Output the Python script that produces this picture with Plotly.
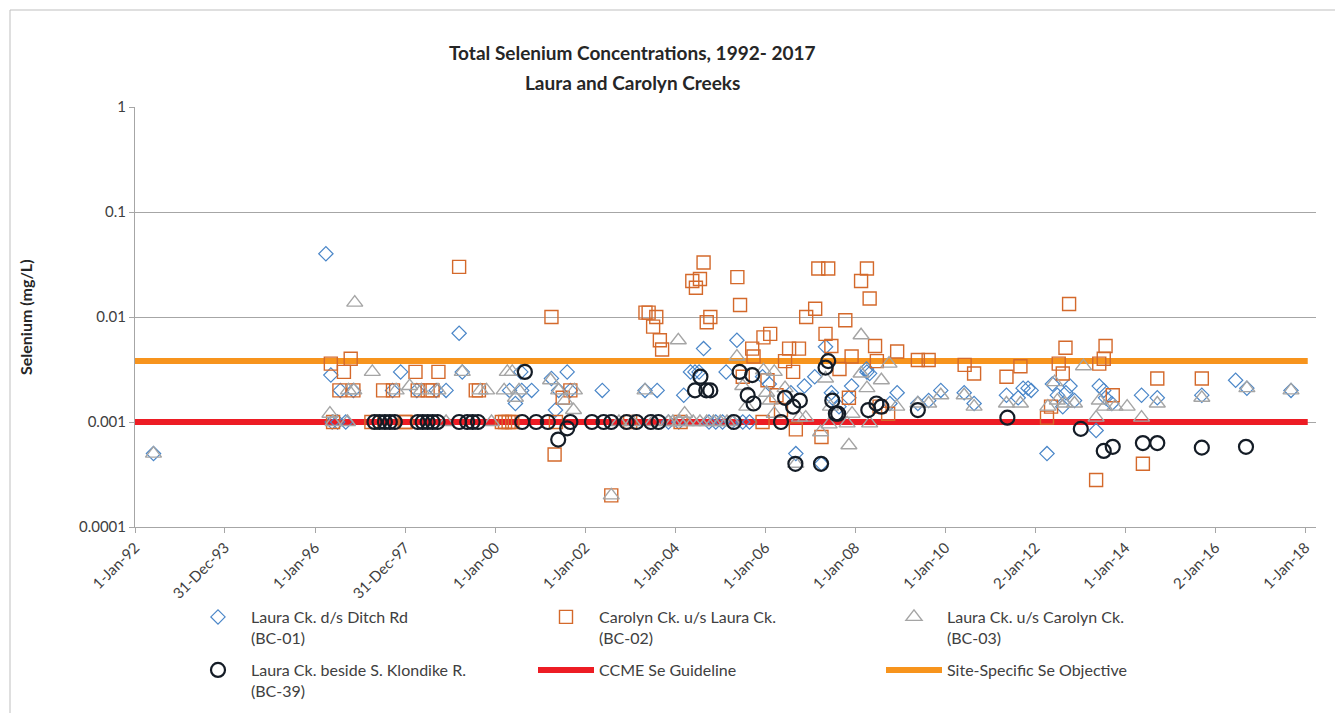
import plotly.graph_objects as go
import pandas as pd

# Sample dates as decimal years, concentrations in mg/L
bc01_year = [1992.41, 1996.24, 1996.35, 1996.38, 1996.50, 1996.56, 1996.68, 1996.85, 1997.72, 1997.90,
             1998.26, 1998.69, 1998.91, 1999.20, 1999.27, 2000.32, 2000.45, 2000.57, 2000.59, 2000.81,
             2001.25, 2001.34, 2001.41, 2001.60, 2001.67, 2002.38, 2003.33, 2003.60, 2003.85, 2004.08,
             2004.19, 2004.34, 2004.44, 2004.53, 2004.63, 2004.75, 2004.90, 2005.05, 2005.13, 2005.25,
             2005.37, 2005.50, 2005.65, 2005.94, 2006.09, 2006.57, 2006.68, 2006.87, 2007.10, 2007.25,
             2007.34, 2007.47, 2007.49, 2007.64, 2007.86, 2007.92, 2008.25, 2008.26, 2008.32, 2008.77,
             2008.93, 2009.39, 2009.63, 2009.90, 2010.42, 2010.64, 2011.36, 2011.62, 2011.73, 2011.84,
             2011.91, 2012.26, 2012.38, 2012.49, 2012.61, 2012.68, 2012.77, 2012.87, 2013.35, 2013.42,
             2013.52, 2013.56, 2013.70, 2014.36, 2014.71, 2015.70, 2016.45, 2016.70, 2017.68]
bc01_se = [0.0005, 0.04, 0.0028, 0.001, 0.001, 0.002, 0.001, 0.002, 0.002, 0.003,
           0.002, 0.002, 0.002, 0.007, 0.003, 0.002, 0.0015, 0.003, 0.002, 0.002,
           0.0026, 0.0013, 0.002, 0.003, 0.002, 0.002, 0.002, 0.002, 0.001, 0.001,
           0.0018, 0.003, 0.003, 0.003, 0.005, 0.001, 0.001, 0.001, 0.003, 0.001,
           0.006, 0.001, 0.001, 0.0027, 0.0023, 0.0019, 0.0005, 0.0022, 0.0027, 0.0004,
           0.0052, 0.0019, 0.0017, 0.0014, 0.0017, 0.0022, 0.0032, 0.003, 0.0029, 0.0015,
           0.0019, 0.0015, 0.0016, 0.002, 0.0019, 0.0015, 0.0018, 0.0017, 0.0021, 0.0021,
           0.002, 0.0005, 0.0023, 0.0018, 0.0014, 0.0019, 0.0022, 0.0016, 0.00083, 0.0022,
           0.002, 0.0017, 0.0015, 0.0018, 0.0017, 0.0018, 0.0025, 0.0021, 0.002]

bc02_year = [1996.35, 1996.40, 1996.54, 1996.64, 1996.79, 1996.85, 1997.25, 1997.51, 1997.73, 1997.99,
             1998.02, 1998.23, 1998.28, 1998.50, 1998.61, 1998.74, 1999.20, 1999.57, 1999.64, 2000.15,
             2000.22, 2000.30, 2000.38, 2001.25, 2001.32, 2001.35, 2001.50, 2001.67, 2002.58, 2003.00,
             2003.34, 2003.41, 2003.51, 2003.58, 2003.66, 2003.71, 2004.12, 2004.38, 2004.46, 2004.55,
             2004.63, 2004.70, 2004.78, 2005.38, 2005.44, 2005.50, 2005.71, 2005.74, 2005.94, 2005.96,
             2006.05, 2006.11, 2006.25, 2006.35, 2006.44, 2006.53, 2006.62, 2006.68, 2006.75, 2006.91,
             2007.11, 2007.18, 2007.25, 2007.34, 2007.40, 2007.47, 2007.65, 2007.78, 2007.86, 2007.92,
             2008.13, 2008.26, 2008.32, 2008.44, 2008.48, 2008.54, 2008.73, 2008.93, 2009.39, 2009.63,
             2010.43, 2010.64, 2011.36, 2011.67, 2012.26, 2012.35, 2012.52, 2012.61, 2012.67, 2012.75,
             2013.35, 2013.42, 2013.52, 2013.56, 2013.72, 2014.39, 2014.71, 2015.70]
bc02_se = [0.0036, 0.001, 0.002, 0.003, 0.004, 0.002, 0.001, 0.002, 0.002, 0.001,
           0.001, 0.003, 0.002, 0.002, 0.002, 0.003, 0.03, 0.002, 0.002, 0.001,
           0.001, 0.001, 0.001, 0.01, 0.00049, 0.001, 0.0017, 0.002, 0.0002, 0.001,
           0.011, 0.011, 0.0081, 0.01, 0.006, 0.0049, 0.001, 0.022, 0.019, 0.023,
           0.033, 0.0089, 0.01, 0.024, 0.013, 0.0027, 0.005, 0.0042, 0.001, 0.0064,
           0.0025, 0.0069, 0.0018, 0.0013, 0.0038, 0.005, 0.003, 0.00085, 0.005, 0.01,
           0.012, 0.029, 0.00072, 0.0069, 0.029, 0.0053, 0.0032, 0.0093, 0.0017, 0.0042,
           0.022, 0.029, 0.015, 0.0053, 0.0038, 0.0014, 0.0012, 0.0047, 0.0039, 0.0039,
           0.0035, 0.0029, 0.0027, 0.0034, 0.0011, 0.0014, 0.0036, 0.0029, 0.0051, 0.0133,
           0.00028, 0.0036, 0.004, 0.0053, 0.0018, 0.0004, 0.0026, 0.0026]

bc03_year = [1992.41, 1996.33, 1996.40, 1996.72, 1996.74, 1996.86, 1996.88, 1997.27, 1997.80, 1998.10,
             1998.36, 1998.73, 1998.91, 1999.27, 1999.67, 1999.81, 1999.92, 2000.20, 2000.27, 2000.38,
             2000.45, 2000.53, 2001.23, 2001.41, 2001.55, 2001.74, 2001.76, 2002.58, 2002.75, 2003.05,
             2003.33, 2003.50, 2003.85, 2003.95, 2004.07, 2004.10, 2004.21, 2004.25, 2004.40, 2004.55,
             2004.70, 2004.85, 2005.00, 2005.15, 2005.28, 2005.37, 2005.50, 2005.59, 2005.96, 2006.03,
             2006.11, 2006.20, 2006.20, 2006.44, 2006.68, 2006.76, 2006.90, 2007.23, 2007.34, 2007.42,
             2007.45, 2007.82, 2007.86, 2007.93, 2008.13, 2008.13, 2008.26, 2008.32, 2008.58, 2008.75,
             2008.92, 2009.39, 2009.63, 2009.90, 2010.42, 2010.64, 2011.36, 2011.67, 2012.28, 2012.43,
             2012.49, 2012.66, 2012.87, 2013.07, 2013.35, 2013.42, 2013.54, 2013.77, 2014.04, 2014.36,
             2014.71, 2015.70, 2016.70, 2017.68]
bc03_se = [0.0005, 0.0012, 0.001, 0.001, 0.002, 0.002, 0.0137, 0.003, 0.002, 0.0022,
           0.002, 0.002, 0.001, 0.003, 0.002, 0.002, 0.001, 0.002, 0.003, 0.003,
           0.0017, 0.002, 0.0025, 0.002, 0.0016, 0.0013, 0.002, 0.0002, 0.001, 0.001,
           0.002, 0.001, 0.001, 0.001, 0.006, 0.001, 0.0012, 0.001, 0.001, 0.001,
           0.001, 0.001, 0.001, 0.001, 0.001, 0.0042, 0.0022, 0.0014, 0.0031, 0.0019,
           0.0016, 0.003, 0.0012, 0.0021, 0.0004, 0.0011, 0.0011, 0.0008, 0.0026, 0.00095,
           0.0014, 0.00097, 0.0006, 0.0012, 0.0067, 0.0029, 0.0021, 0.00097, 0.0025, 0.0036,
           0.0014, 0.0015, 0.0015, 0.0018, 0.0018, 0.0014, 0.0015, 0.0015, 0.0014, 0.0024,
           0.0016, 0.0015, 0.0015, 0.0034, 0.0011, 0.0016, 0.0014, 0.0014, 0.0014, 0.0011,
           0.0015, 0.0017, 0.0021, 0.002]

bc39_year = [1997.32, 1997.43, 1997.55, 1997.66, 1997.77, 1998.28, 1998.39, 1998.50, 1998.61, 1998.72,
             1999.20, 1999.38, 1999.50, 1999.62, 2000.60, 2000.66, 2000.91, 2001.17, 2001.40, 2001.60,
             2001.67, 2002.15, 2002.41, 2002.58, 2002.92, 2003.14, 2003.46, 2003.63, 2004.44, 2004.56,
             2004.69, 2004.78, 2005.30, 2005.43, 2005.61, 2005.71, 2005.74, 2006.35, 2006.44, 2006.62,
             2006.67, 2006.77, 2007.24, 2007.34, 2007.40, 2007.49, 2007.57, 2007.62, 2008.29, 2008.47,
             2008.58, 2009.39, 2011.38, 2013.01, 2013.52, 2013.72, 2014.39, 2014.71, 2015.70, 2016.68]
bc39_se = [0.001, 0.001, 0.001, 0.001, 0.001, 0.001, 0.001, 0.001, 0.001, 0.001,
           0.001, 0.001, 0.001, 0.001, 0.001, 0.003, 0.001, 0.001, 0.00068, 0.00087,
           0.001, 0.001, 0.001, 0.001, 0.001, 0.001, 0.001, 0.001, 0.002, 0.0027,
           0.002, 0.002, 0.001, 0.003, 0.0018, 0.0028, 0.0015, 0.001, 0.0017, 0.0014,
           0.0004, 0.0016, 0.0004, 0.0033, 0.0038, 0.0016, 0.0012, 0.0012, 0.0013, 0.0015,
           0.0014, 0.0013, 0.0011, 0.00086, 0.00053, 0.00058, 0.00063, 0.00063, 0.00057, 0.00058]

# Guideline / objective lines
guideline_dates = ["1992-01-01", "2018-01-20"]
ccme_se = 0.001
objective_se = 0.0038

x_tick_labels = ["1-Jan-92", "31-Dec-93", "1-Jan-96", "31-Dec-97", "1-Jan-00", "1-Jan-02", "1-Jan-04",
                 "1-Jan-06", "1-Jan-08", "1-Jan-10", "2-Jan-12", "1-Jan-14", "2-Jan-16", "1-Jan-18"]
y_tick_values = [0.0001, 0.001, 0.01, 0.1, 1]
y_tick_labels = ["0.0001", "0.001", "0.01", "0.1", "1"]

FONT = "Lato"
TEXT_COLOR = "#404040"


def to_dates(years):
    """Convert decimal years to timestamps."""
    out = []
    for y in years:
        yr = int(y)
        start = pd.Timestamp(yr, 1, 1)
        end = pd.Timestamp(yr + 1, 1, 1)
        out.append(start + (end - start) * (y - yr))
    return out


def create_selenium_chart() -> go.Figure:
    fig = go.Figure()

    # Reference lines first so markers sit on top
    fig.add_trace(go.Scatter(
        x=pd.to_datetime(guideline_dates), y=[ccme_se] * 2,
        mode='lines', name='CCME Se Guideline',
        line=dict(color='#ED1C24', width=6),
        legend='legend2', legendrank=2
    ))
    fig.add_trace(go.Scatter(
        x=pd.to_datetime(guideline_dates), y=[objective_se] * 2,
        mode='lines', name='Site-Specific Se Objective',
        line=dict(color='#F7941D', width=6),
        legend='legend2', legendrank=3
    ))

    series = [
        (bc01_year, bc01_se, 'Laura Ck. d/s Ditch Rd<br>(BC-01)', 'diamond-open', 11, '#4A86C8', 1.2, 'legend', 1),
        (bc02_year, bc02_se, 'Carolyn Ck. u/s Laura Ck.<br>(BC-02)', 'square-open', 13, '#D4692B', 1.4, 'legend', 2),
        (bc03_year, bc03_se, 'Laura Ck. u/s Carolyn Ck.<br>(BC-03)', 'triangle-up-open', 14, '#A5A5A5', 1.4, 'legend', 3),
        (bc39_year, bc39_se, 'Laura Ck. beside S. Klondike R.<br>(BC-39)', 'circle-open', 14, '#141C26', 2.2, 'legend2', 1),
    ]
    for years, vals, name, symbol, size, color, lw, leg, rank in series:
        fig.add_trace(go.Scatter(
            x=to_dates(years), y=vals, mode='markers', name=name,
            marker=dict(symbol=symbol, size=size, color=color, line=dict(color=color, width=lw)),
            legend=leg, legendrank=rank
        ))

    legend_style = dict(
        orientation='h', xanchor='left', yanchor='top',
        entrywidth=277, itemwidth=56, valign='top',
        font=dict(family=FONT, size=16, color=TEXT_COLOR),
        bgcolor='rgba(0,0,0,0)', traceorder='normal'
    )

    # The page body adds an 8px offset, so the figure is 8px smaller than the window
    fig.update_layout(
        width=1335, height=705,
        margin=dict(l=127, r=27, t=99, b=186, autoexpand=False),
        paper_bgcolor='white', plot_bgcolor='white',
        font=dict(family=FONT, color=TEXT_COLOR),
        showlegend=True,
        legend=dict(legend_style, x=(185 - 135) / 1181, y=(527 - 600) / 420),
        legend2=dict(legend_style, x=(185 - 135) / 1181, y=(527 - 653) / 420),
        xaxis=dict(
            type='date',
            range=['1992-01-01', '2018-03-28'],
            tickvals=pd.to_datetime(x_tick_labels, format="%d-%b-%y"),
            ticktext=x_tick_labels,
            tickangle=-45,
            tickfont=dict(family=FONT, size=15, color=TEXT_COLOR),
            showgrid=False, zeroline=False,
            showline=True, linecolor='#A6A6A6', linewidth=1,
            ticks='outside', ticklen=5, tickcolor='#A6A6A6'
        ),
        yaxis=dict(
            type='log',
            range=[-4, 0],
            tickvals=y_tick_values,
            ticktext=y_tick_labels,
            tickfont=dict(family=FONT, size=15, color=TEXT_COLOR),
            showgrid=True, gridcolor='#A6A6A6', gridwidth=1,
            showline=True, linecolor='#A6A6A6', linewidth=1,
            ticks='outside', ticklen=5, tickcolor='#A6A6A6',
            zeroline=False
        ),
        annotations=[
            dict(text='<b>Total Selenium Concentrations, 1992- 2017</b>', x=(632 - 135) / 1181, y=(527 - 52) / 420,
                 xref='paper', yref='paper', showarrow=False, xanchor='center', yanchor='middle',
                 font=dict(family=FONT, size=19, color='#262626')),
            dict(text='<b>Laura and Carolyn Creeks</b>', x=(632 - 135) / 1181, y=(527 - 82) / 420,
                 xref='paper', yref='paper', showarrow=False, xanchor='center', yanchor='middle',
                 font=dict(family=FONT, size=19, color='#262626')),
            dict(text='<b>Selenium (mg/L)</b>', x=(25 - 135) / 1181, y=0.5, textangle=-90,
                 xref='paper', yref='paper', showarrow=False, xanchor='center', yanchor='middle',
                 font=dict(family=FONT, size=16, color='#262626')),
        ],
        shapes=[
            # chart area border (top and left edges visible in the frame)
            dict(type='line', xref='paper', yref='paper', x0=(10 - 135) / 1181, x1=(1343 - 135) / 1181,
                 y0=(527 - 10) / 420, y1=(527 - 10) / 420, line=dict(color='#BFBFBF', width=1)),
            dict(type='line', xref='paper', yref='paper', x0=(10 - 135) / 1181, x1=(10 - 135) / 1181,
                 y0=(527 - 10) / 420, y1=(527 - 713) / 420, line=dict(color='#BFBFBF', width=1)),
        ],
    )
    return fig


fig = create_selenium_chart()
fig.write_html("out.html")
